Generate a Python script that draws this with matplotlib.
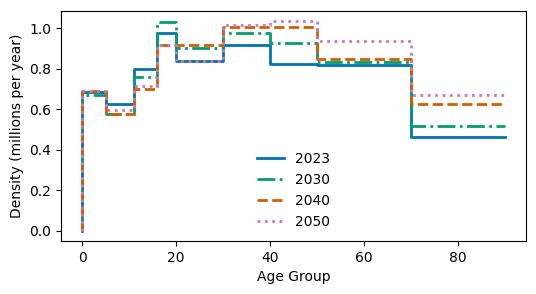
import matplotlib
matplotlib.use("Agg")
import matplotlib.pyplot as plt

# Age-group bin edges and density per bin (millions per year)
age_edges = [0, 5, 11, 16, 20, 30, 40, 50, 70, 90]
years = ["2023", "2030", "2040", "2050"]
density_2023 = [0.685, 0.626, 0.798, 0.975, 0.839, 0.918, 0.823, 0.818, 0.461]
density_2030 = [0.672, 0.575, 0.759, 1.031, 0.905, 0.975, 0.926, 0.833, 0.518]
density_2040 = [0.690, 0.575, 0.700, 0.918, 0.918, 1.006, 1.006, 0.848, 0.626]
density_2050 = [0.690, 0.597, 0.715, 0.918, 0.839, 1.015, 1.036, 0.936, 0.669]

colors = ["#0173b2", "#029e73", "#d55e00", "#cc78bc"]
styles = ["-", "-.", "--", ":"]

fig, ax = plt.subplots(figsize=(5.36, 2.94), dpi=100)
fig.subplots_adjust(left=0.114, right=0.981, top=0.964, bottom=0.180)

for year, dens, c, ls in zip(years,
                             [density_2023, density_2030, density_2040, density_2050],
                             colors, styles):
    ax.step(age_edges, [0] + dens, where="pre", color=c, linestyle=ls,
            linewidth=2, label=year)

ax.set_xlabel("Age Group")
ax.set_ylabel("Density (millions per year)")
ax.legend(loc="lower center", frameon=False)

fig.savefig("out.png")
